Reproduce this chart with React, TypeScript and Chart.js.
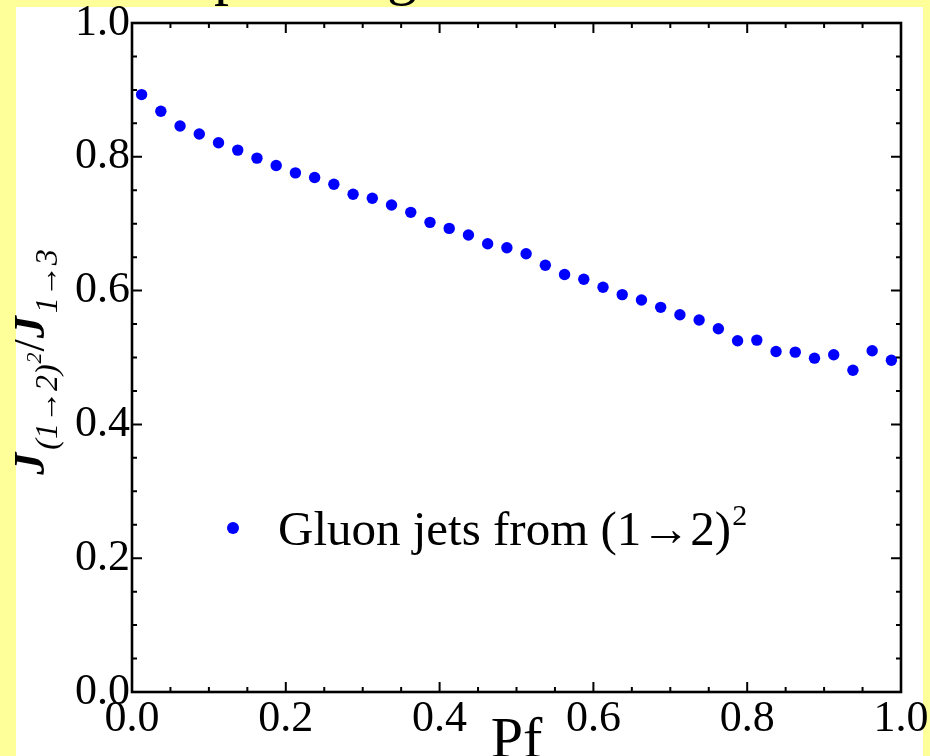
import React, { useEffect, useRef } from "react";
import { Chart, registerables } from "chart.js";

Chart.register(...registerables);

// ---- data ----
const pf = [
  0.0125, 0.0375, 0.0625, 0.0875, 0.1125, 0.1375, 0.1625, 0.1875, 0.2125, 0.2375,
  0.2625, 0.2875, 0.3125, 0.3375, 0.3625, 0.3875, 0.4125, 0.4375, 0.4625, 0.4875,
  0.5125, 0.5375, 0.5625, 0.5875, 0.6125, 0.6375, 0.6625, 0.6875, 0.7125, 0.7375,
  0.7625, 0.7875, 0.8125, 0.8375, 0.8625, 0.8875, 0.9125, 0.9375, 0.9625, 0.9875,
];
const ratio = [
  0.893, 0.868, 0.846, 0.834, 0.821, 0.810, 0.798, 0.787, 0.776, 0.769,
  0.759, 0.744, 0.738, 0.728, 0.717, 0.702, 0.693, 0.683, 0.670, 0.664,
  0.655, 0.638, 0.624, 0.617, 0.605, 0.594, 0.586, 0.575, 0.564, 0.556,
  0.543, 0.525, 0.526, 0.509, 0.508, 0.499, 0.504, 0.481, 0.510, 0.496,
];
const majorTicks = [0, 0.2, 0.4, 0.6, 0.8, 1.0];
const minorTicks = [
  0.05, 0.1, 0.15, 0.25, 0.3, 0.35, 0.45, 0.5, 0.55, 0.65, 0.7, 0.75, 0.85, 0.9, 0.95,
];
const seriesLabel = "Gluon jets from (1\u21922)";
const seriesLabelSup = "2";
const xTitle = "Pf";
const yTitleParts = [
  { text: "J", kind: "main" },
  { text: "(1\u21922)", kind: "sub" },
  { text: "2", kind: "subsup" },
  { text: "/", kind: "slash" },
  { text: "J", kind: "main" },
  { text: "1\u21923", kind: "sub" },
];
const titleFragments = ["p", "g"];

const SERIF = "'Liberation Serif', 'Times New Roman', serif";
const BLUE = "#0000ff";

const chartPlugin = {
  id: "mathematicaFrame",
  afterDraw(chart: any) {
    const { ctx, chartArea } = chart;
    const xs = chart.scales.x;
    const ys = chart.scales.y;
    const { left, right, top, bottom } = chartArea;
    ctx.save();
    // ticks
    ctx.strokeStyle = "#000";
    ctx.lineWidth = 2;
    const drawTicks = (vals: number[], len: number) => {
      ctx.beginPath();
      for (const v of vals) {
        const px = xs.getPixelForValue(v);
        ctx.moveTo(px, bottom);
        ctx.lineTo(px, bottom - len);
        ctx.moveTo(px, top);
        ctx.lineTo(px, top + len);
        const py = ys.getPixelForValue(v);
        ctx.moveTo(left, py);
        ctx.lineTo(left + len, py);
        ctx.moveTo(right, py);
        ctx.lineTo(right - len, py);
      }
      ctx.stroke();
    };
    drawTicks(majorTicks, 10);
    drawTicks(minorTicks, 5);
    // frame
    ctx.lineWidth = 2.6;
    ctx.strokeRect(left, top, right - left, bottom - top);

    // x title
    ctx.fillStyle = "#000";
    ctx.font = `58px ${SERIF}`;
    ctx.textAlign = "center";
    ctx.textBaseline = "alphabetic";
    ctx.fillText(xTitle, (left + right) / 2, 757);

    // y title (rotated)
    ctx.save();
    ctx.translate(44, (top + bottom) / 2 + 4);
    ctx.rotate(-Math.PI / 2);
    ctx.textAlign = "left";
    const fontFor = (kind: string) =>
      kind === "main"
        ? `bold italic 44px ${SERIF}`
        : kind === "slash"
        ? `44px ${SERIF}`
        : kind === "sub"
        ? `italic 32px ${SERIF}`
        : `italic 22px ${SERIF}`;
    const dyFor = (kind: string) =>
      kind === "sub" ? 13 : kind === "subsup" ? -3 : 0;
    let total = 0;
    const widths = yTitleParts.map((p) => {
      ctx.font = fontFor(p.kind);
      const w = ctx.measureText(p.text).width + (p.kind === "main" ? 3 : 1);
      total += w;
      return w;
    });
    let xp = -total / 2;
    yTitleParts.forEach((p, i) => {
      ctx.font = fontFor(p.kind);
      ctx.fillText(p.text, xp, dyFor(p.kind));
      xp += widths[i];
    });
    ctx.restore();

    // legend inside plot
    const ds = chart.data.datasets[0];
    ctx.fillStyle = ds.backgroundColor;
    ctx.beginPath();
    ctx.arc(233, 528, 6, 0, Math.PI * 2);
    ctx.fill();
    ctx.fillStyle = "#000";
    ctx.font = `49px ${SERIF}`;
    ctx.textAlign = "left";
    ctx.textBaseline = "alphabetic";
    const lx = 278;
    const ly = 545;
    ctx.fillText(ds.label, lx, ly);
    const w = ctx.measureText(ds.label).width;
    ctx.font = `30px ${SERIF}`;
    ctx.fillText(seriesLabelSup, lx + w + 1, ly - 20);
    ctx.restore();
  },
};

export default function App() {
  const ref = useRef<HTMLCanvasElement | null>(null);
  useEffect(() => {
    if (!ref.current) return;
    const chart = new Chart(ref.current, {
      type: "scatter",
      data: {
        datasets: [
          {
            label: seriesLabel,
            data: pf.map((x, i) => ({ x, y: ratio[i] })),
            backgroundColor: BLUE,
            borderColor: BLUE,
            pointRadius: 5.7,
            pointBorderWidth: 0,
          },
        ],
      },
      options: {
        animation: false,
        responsive: false,
        devicePixelRatio: 1,
        layout: { padding: { top: 23, right: 29, left: 0, bottom: 0 } },
        plugins: {
          legend: { display: false },
          tooltip: { enabled: false },
          title: { display: false },
        },
        scales: {
          x: {
            type: "linear",
            min: 0,
            max: 1,
            grid: { display: false, drawTicks: false, tickLength: 0 },
            border: { display: false },
            ticks: {
              stepSize: 0.2,
              autoSkip: false,
              maxRotation: 0,
              padding: 1,
              color: "#000",
              font: { family: SERIF, size: 44 },
              callback: (v: any) => Number(v).toFixed(1),
            },
            afterFit: (s: any) => {
              s.height = 64;
              s.paddingLeft = 0;
              s.paddingRight = 0;
            },
          },
          y: {
            type: "linear",
            min: 0,
            max: 1,
            grid: { display: false, drawTicks: false, tickLength: 0 },
            border: { display: false },
            ticks: {
              stepSize: 0.2,
              autoSkip: false,
              padding: 2,
              color: "#000",
              font: { family: SERIF, size: 44 },
              callback: (v: any) => Number(v).toFixed(1),
            },
            afterFit: (s: any) => {
              s.width = 132;
              s.paddingTop = 0;
              s.paddingBottom = 0;
            },
          },
        },
      },
      plugins: [chartPlugin],
    });
    return () => chart.destroy();
  }, []);

  return (
    <div
      style={{
        position: "absolute",
        left: 0,
        top: 0,
        width: 930,
        height: 756,
        background: "#ffff99",
        overflow: "hidden",
      }}
    >
      <div
        style={{
          position: "absolute",
          left: 0,
          top: 0,
          width: 930,
          height: 7,
          overflow: "hidden",
          fontFamily: SERIF,
          fontSize: 60,
          lineHeight: "60px",
          color: "#000",
        }}
      >
        <span style={{ position: "absolute", left: 214, top: -57 }}>{titleFragments[0]}</span>
        <span style={{ position: "absolute", left: 387, top: -57 }}>{titleFragments[1]}</span>
      </div>
      <div
        style={{
          position: "absolute",
          left: 16,
          top: 7,
          width: 907,
          height: 749,
          background: "#ffffff",
        }}
      />
      <canvas
        ref={ref}
        width={930}
        height={756}
        style={{ position: "absolute", left: 0, top: 0, width: 930, height: 756 }}
      />
    </div>
  );
}
